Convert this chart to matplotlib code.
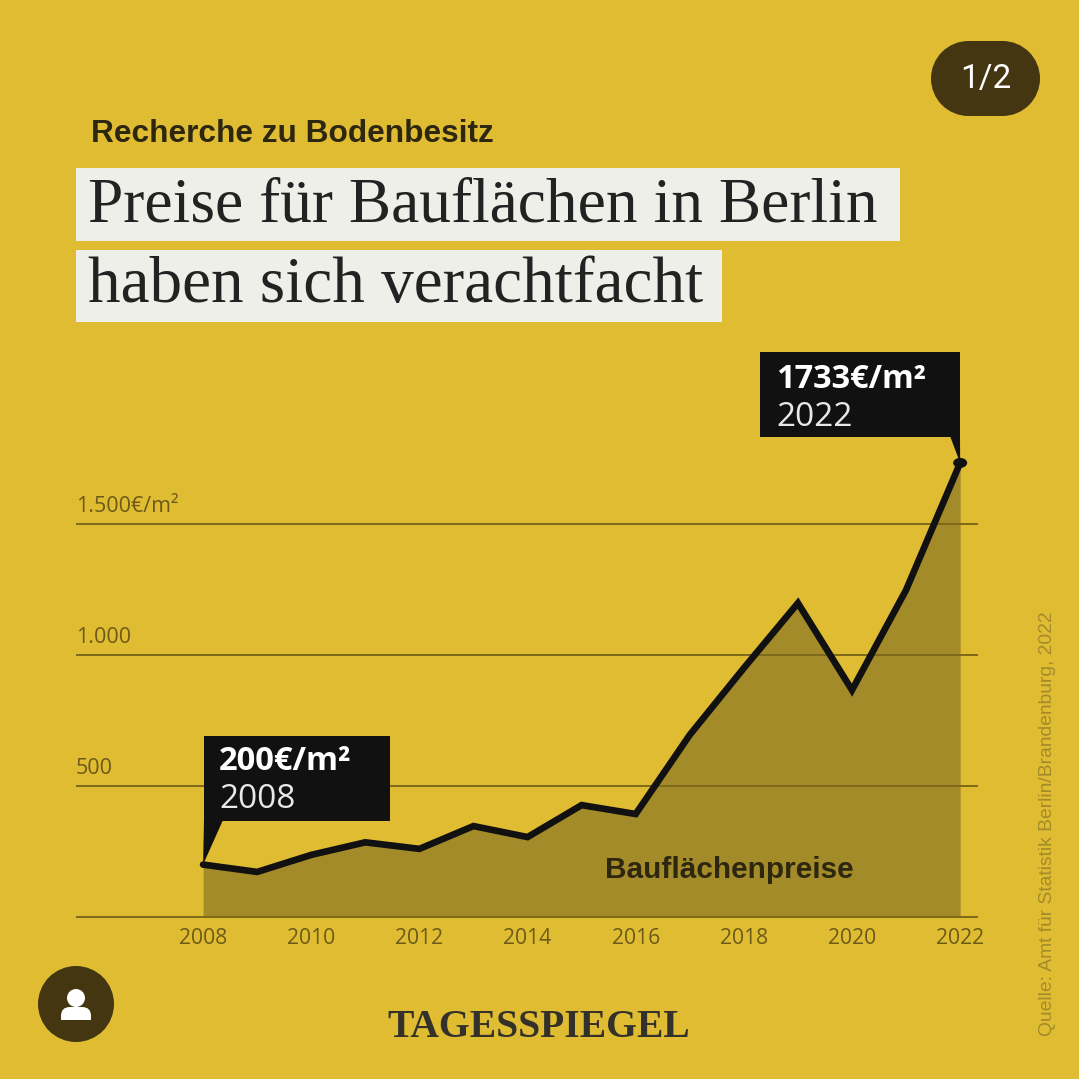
import matplotlib
matplotlib.use("Agg")
import matplotlib.pyplot as plt
from matplotlib.patches import Circle, Ellipse, FancyBboxPatch, Polygon, Rectangle

years = [2008, 2009, 2010, 2011, 2012, 2013, 2014, 2015, 2016, 2017, 2018, 2019, 2020, 2021, 2022]
prices = [200, 172, 237, 285, 260, 347, 305, 427, 393, 695, 950, 1198, 866, 1248, 1733]
x_ticks = [2008, 2010, 2012, 2014, 2016, 2018, 2020, 2022]
y_grid = [0, 500, 1000, 1500]
y_labels = ["", "500", "1.000", "1.500€/m²"]

BG = "#E0BC32"
FILL = "#A48B2A"
GRID = "#7D6A1A"
TICK = "#6B5A18"
DARK = "#433610"
BLACK = "#111111"
W = 1079

fig = plt.figure(figsize=(W / 100, W / 100), dpi=100, facecolor=BG)

# data axes, placed so the gridlines land where they do in the original
ax = fig.add_axes([76 / W, (W - 917) / W, (978 - 76) / W, 577 / W])
ax.set_facecolor("none")
ax.set_xlim(2005.65, 2022.33)
ax.set_ylim(0, 2202)
for s in ax.spines.values():
    s.set_visible(False)
ax.set_xticks(x_ticks)
ax.set_yticks([])
ax.tick_params(axis="x", length=0, pad=8, labelsize=15.2, labelcolor=TICK)
for lab in ax.get_xticklabels():
    lab.set_fontfamily("Open Sans")

ax.fill_between(years, prices, 0, color=FILL, lw=0, zorder=1)
for v, lab in zip(y_grid, y_labels):
    ax.axhline(v, color=GRID, lw=1.4, zorder=2, clip_on=False, solid_capstyle="butt")
    ax.text(0, v + 27, lab, transform=ax.get_yaxis_transform(), color=TICK, fontsize=15.5,
            family="Open Sans", va="bottom", ha="left")
ax.plot(years, prices, color=BLACK, lw=4.8, solid_joinstyle="miter", solid_capstyle="round", zorder=4)

# pixel overlay for the furniture around the chart
ov = fig.add_axes([0, 0, 1, 1])
ov.set_xlim(0, W)
ov.set_ylim(W, 0)
ov.axis("off")
ov.patch.set_alpha(0)


def to_px(x, y):
    px = ax.transData.transform((x, y))
    return px[0], W - px[1]


ov.text(854, 870, "Bauflächenpreise", color="#2E2710", fontsize=21.4, fontweight="bold",
        family="Liberation Sans", ha="right", va="center", zorder=5)

# callouts
tip0 = to_px(years[0], prices[0])
tip1 = to_px(years[-1], prices[-1])
ov.add_patch(Rectangle((204, 736), 186, 85, color=BLACK, lw=0, zorder=6))
ov.add_patch(Polygon([(204, 820), (223, 820), tip0], color=BLACK, lw=0, zorder=6))
ov.add_patch(Rectangle((760, 352), 200, 85, color=BLACK, lw=0, zorder=6))
ov.add_patch(Polygon([(950, 436), (960, 436), tip1], color=BLACK, lw=0, zorder=6))
ov.add_patch(Ellipse(tip1, 14, 10, color=BLACK, lw=0, zorder=6))
ov.text(219, 762, "200€/m²", color="white", fontsize=23.6, fontweight="bold", family="Open Sans",
        va="center", zorder=7)
ov.text(219, 800, "2008", color="#E8E8E8", fontsize=24, family="Open Sans", va="center", zorder=7)
ov.text(776, 380, "1733€/m²", color="white", fontsize=23.4, fontweight="bold", family="Open Sans",
        va="center", zorder=7)
ov.text(776, 418, "2022", color="#E8E8E8", fontsize=24, family="Open Sans", va="center", zorder=7)

# headline
ov.text(91, 142, "Recherche zu Bodenbesitz", color="#2E2710", fontsize=22.8, fontweight="bold",
        family="Liberation Sans", va="baseline")
ov.add_patch(Rectangle((76, 168), 824, 73, color="#EFEFEA", lw=0))
ov.add_patch(Rectangle((76, 250), 646, 72, color="#EFEFEA", lw=0))
ov.text(88, 221, "Preise für Bauflächen in Berlin", color="#222222", fontsize=45.6,
        family="Liberation Serif", va="baseline")
ov.text(88, 302, "haben sich verachtfacht", color="#222222", fontsize=46.9,
        family="Liberation Serif", va="baseline")

# source and logo
ov.text(1047, 824, "Quelle: Amt für Statistik Berlin/Brandenburg, 2022", color="#A48B2A", fontsize=13.85,
        family="Liberation Sans", rotation=90, ha="center", va="center")
ov.text(539, 1037, "TAGESSPIEGEL", color="#34312A", fontsize=28.5, family="Liberation Serif",
        fontweight="bold", ha="center", va="baseline")

# page badge (pill) and profile icon
ov.add_patch(Rectangle((969, 41), 33, 75, color=DARK, lw=0))
ov.add_patch(Circle((968.5, 78.5), 37.5, color=DARK, lw=0))
ov.add_patch(Circle((1002.5, 78.5), 37.5, color=DARK, lw=0))
ov.text(986, 79, "1/2", color="white", fontsize=24, family="Roboto", ha="center", va="center")
ov.add_patch(Circle((76, 1004), 38, color=DARK, lw=0))
ov.add_patch(Circle((76, 998), 9, color="white", lw=0, zorder=3))
ov.add_patch(FancyBboxPatch((61, 1007), 30, 20, boxstyle="round,pad=0,rounding_size=9",
                            color="white", lw=0, zorder=3))
ov.add_patch(Rectangle((58, 1020), 36, 10, color=DARK, lw=0, zorder=3))

fig.savefig("out.png", dpi=100, facecolor=BG)
plt.close(fig)
